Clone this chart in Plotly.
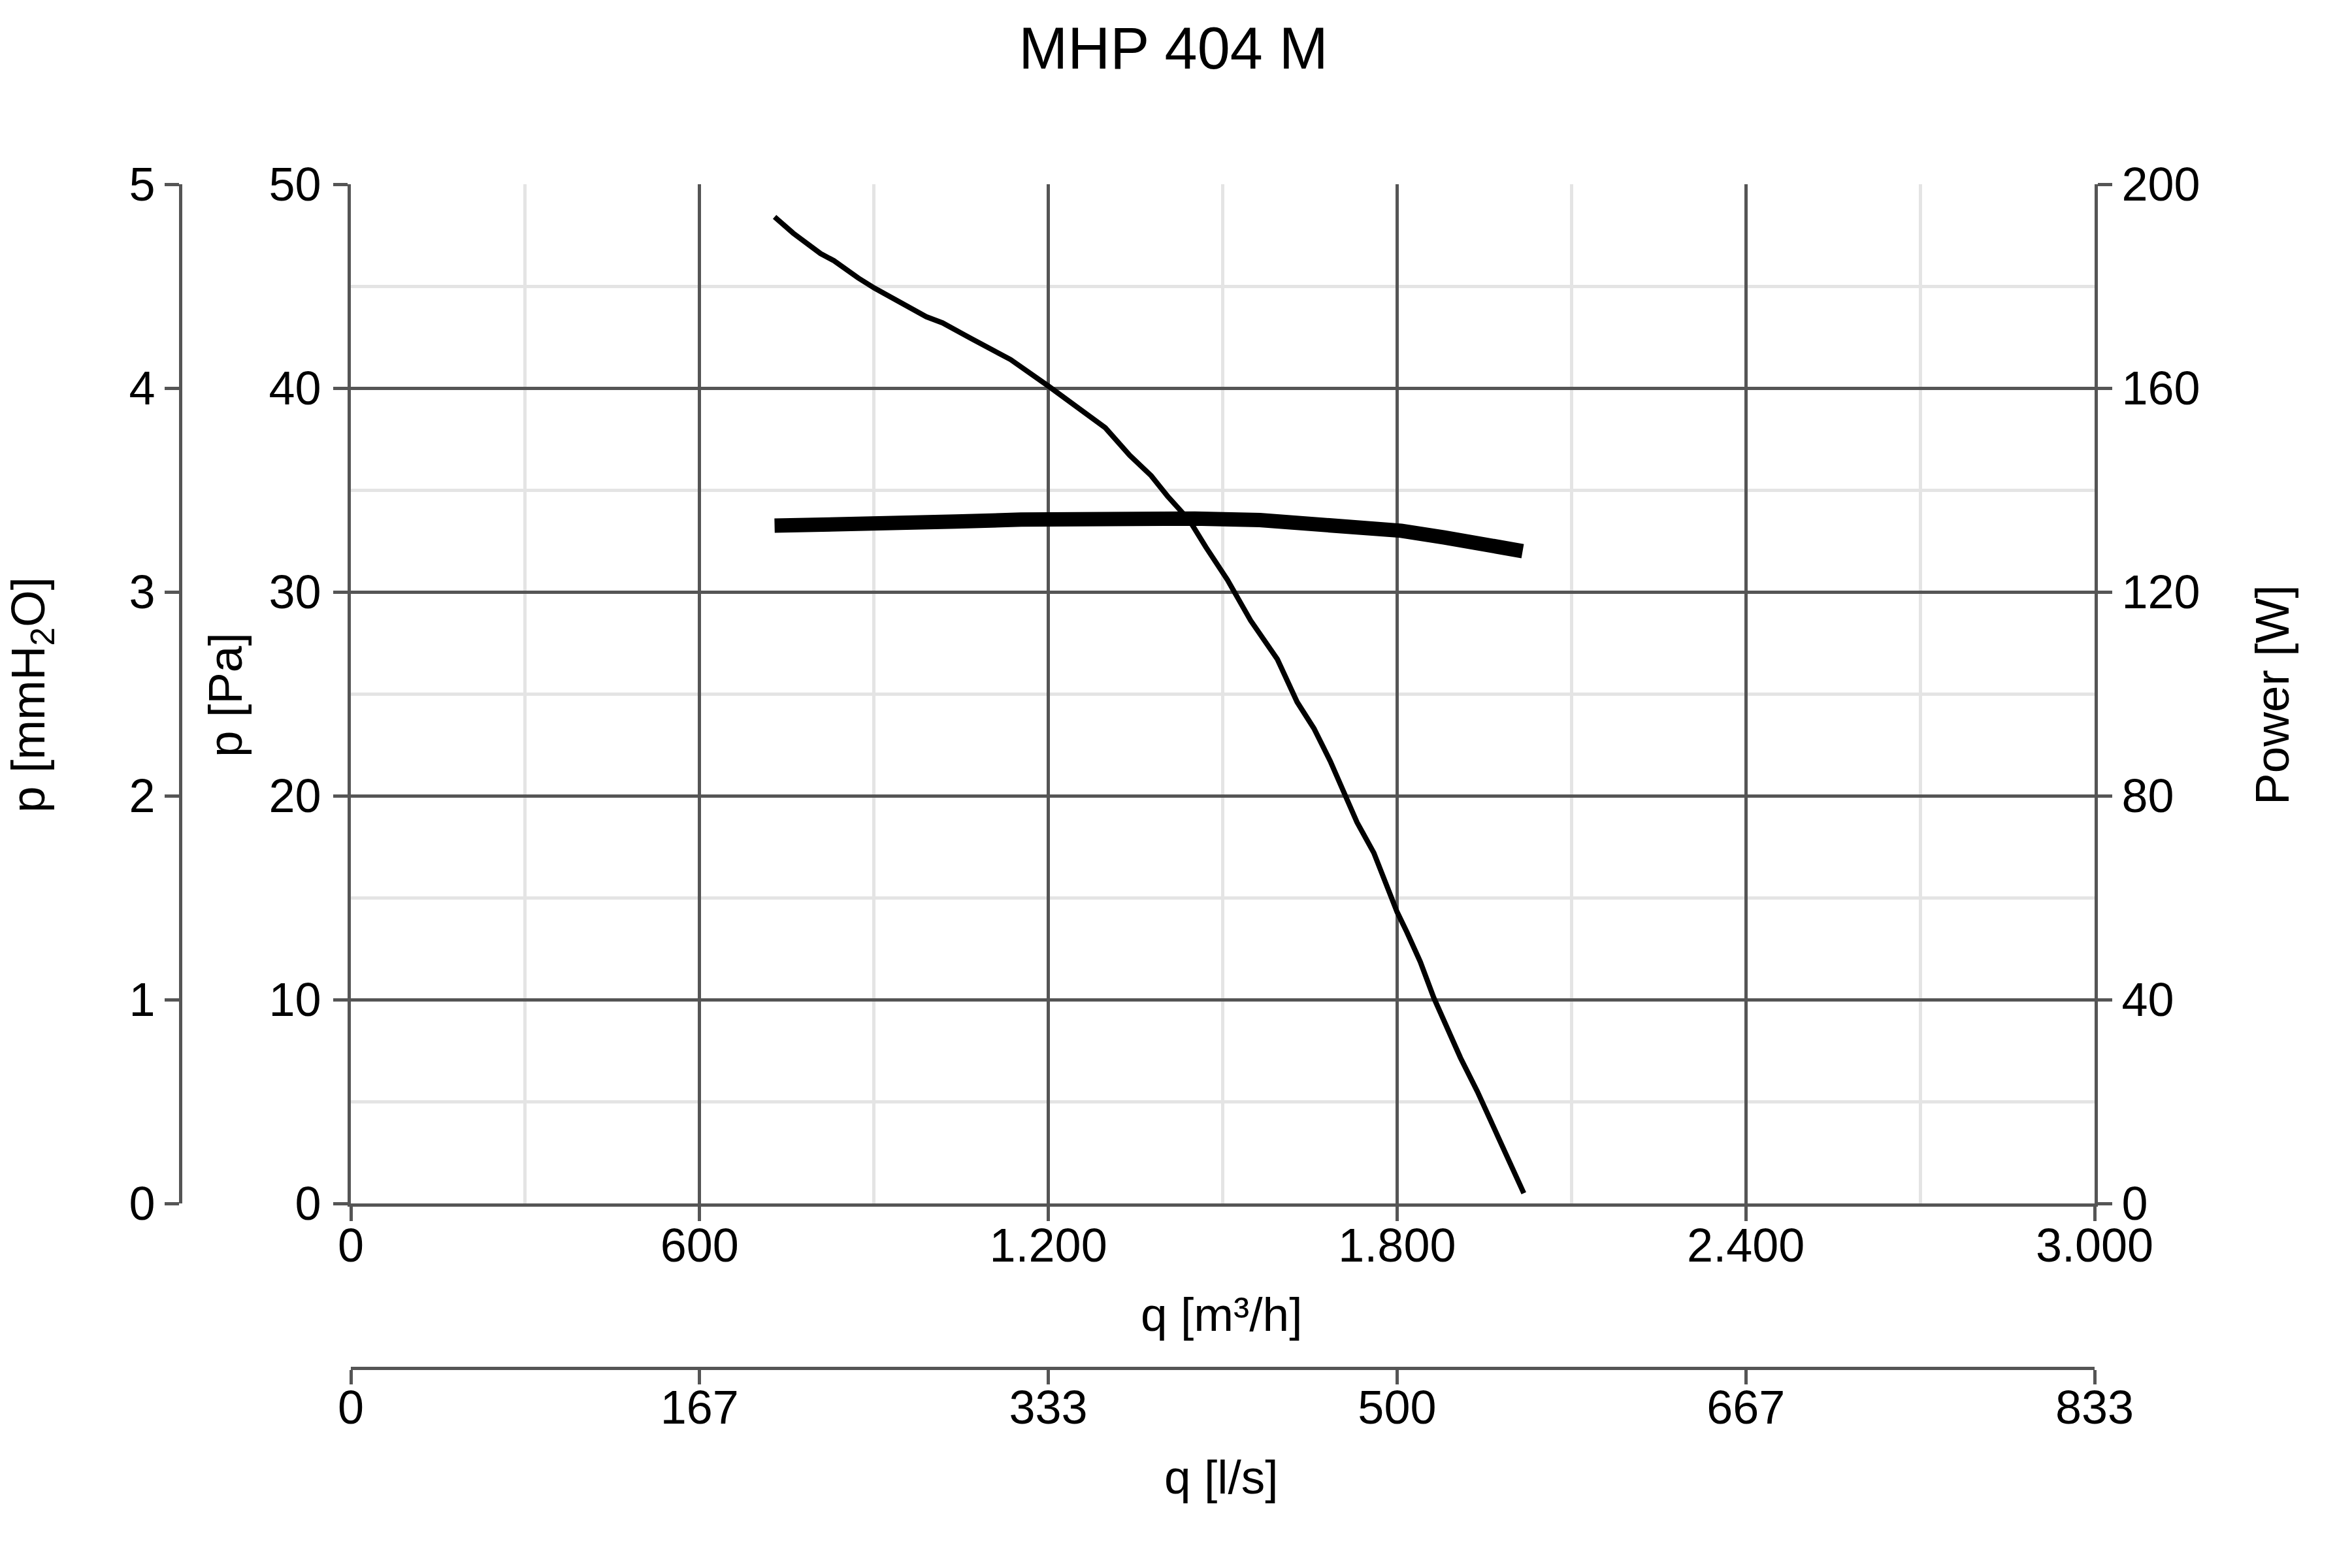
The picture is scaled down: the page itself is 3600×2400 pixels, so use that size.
import plotly.graph_objects as go

# ---- data ----
q_pressure = [729, 761, 808, 831, 873, 901, 990, 1018, 1069, 1135, 1200, 1298, 1340, 1377,
              1405, 1443, 1471, 1508, 1548, 1571, 1594, 1628, 1657, 1685, 1708, 1731, 1760,
              1783, 1800, 1817, 1840, 1863, 1886, 1909, 1938, 1966, 1995, 2018]
p_pa = [48.4, 47.6, 46.6, 46.25, 45.4, 44.9, 43.5, 43.2, 42.4, 41.4, 40.1, 38.05, 36.7, 35.7,
        34.7, 33.5, 32.2, 30.6, 28.6, 27.7, 26.7, 24.6, 23.3, 21.7, 20.2, 18.7, 17.2,
        15.5, 14.3, 13.3, 11.85, 10.1, 8.6, 7.15, 5.5, 3.7, 1.94, 0.5]

q_power = [729, 901, 929, 1041, 1153, 1303, 1452, 1564, 1620, 1732, 1807, 1881, 1946, 2016]
power_w = [133.0, 133.1, 133.6, 133.8, 134.2, 134.6, 134.4, 134.1, 133.7, 132.8, 132.0,
           130.7, 129.1, 128.0]

q_ticks = [0, 600, 1200, 1800, 2400, 3000]
q_ticklabels = ["0", "600", "1.200", "1.800", "2.400", "3.000"]
ls_ticks = [0, 166.667, 333.333, 500, 666.667, 833.333]
ls_ticklabels = ["0", "167", "333", "500", "667", "833"]

title_text = "MHP 404 M"

# ---- style ----
FONT = "Liberation Sans, Arial, sans-serif"
DARK = "#555555"
LIGHT = "#e4e4e4"
TF = 72
AF = 73
W, H = 3600, 2400


def px(x):
    return x / W


def py(y):
    return (H - y) / H


fig = go.Figure()
fig.add_trace(go.Scatter(x=q_pressure, y=p_pa, mode="lines",
                         line=dict(color="black", width=8), xaxis="x", yaxis="y",
                         showlegend=False, hoverinfo="skip"))
fig.add_trace(go.Scatter(x=q_power, y=power_w, mode="lines",
                         line=dict(color="black", width=22), xaxis="x", yaxis="y2",
                         showlegend=False, hoverinfo="skip"))
# carrier for the secondary unit axes
fig.add_trace(go.Scatter(x=[None], y=[None], xaxis="x2", yaxis="y3", showlegend=False,
                         hoverinfo="skip"))

xdom = [px(529), px(3198)]
ydom = [py(1834), py(274)]

axis_common = dict(ticks="outside", ticklen=22, tickwidth=5, tickcolor=DARK,
                   showline=True, linecolor=DARK, linewidth=5, zeroline=False,
                   automargin=False,
                   tickfont=dict(size=TF, color="black", family=FONT))

fig.update_layout(
    width=W, height=H,
    margin=dict(l=0, r=0, t=0, b=0, autoexpand=False),
    paper_bgcolor="white", plot_bgcolor="white",
    font=dict(family=FONT, color="black", size=TF),
    showlegend=False,
    xaxis=dict(domain=xdom, range=[0, 3000], tickmode="array", tickvals=q_ticks,
               ticktext=q_ticklabels, showgrid=True, gridcolor=DARK, gridwidth=5,
               minor=dict(dtick=300, showgrid=True, gridcolor=LIGHT, gridwidth=5, ticks=""),
               anchor="y", ticklabelstandoff=-24, **axis_common),
    yaxis=dict(domain=ydom, range=[0, 50], dtick=10, showgrid=True, gridcolor=DARK,
               gridwidth=5, minor=dict(dtick=5, showgrid=True, gridcolor=LIGHT, gridwidth=5,
                                       ticks=""),
               anchor="x", ticklabelstandoff=4, **axis_common),
    yaxis2=dict(range=[0, 200], dtick=40, overlaying="y", side="right", anchor="x",
                showgrid=False, **axis_common),
    yaxis3=dict(range=[0, 5], dtick=1, overlaying="y", side="left", anchor="free",
                position=px(268), showgrid=False, **axis_common),
    xaxis2=dict(range=[0, 833.333], tickmode="array", tickvals=ls_ticks,
                ticktext=ls_ticklabels, overlaying="x", side="bottom", anchor="free",
                position=py(2086), showgrid=False, ticklabelstandoff=-26, **axis_common),
    title=dict(text=title_text, x=px(1788), xanchor="center", y=py(65),
               yanchor="middle", yref="container", xref="paper", automargin=False,
               font=dict(size=90, color="black", family=FONT)),
)

ann = dict(showarrow=False, xref="paper", yref="paper",
           font=dict(size=AF, color="black", family=FONT))
ymid = py(1056)
fig.add_annotation(text="q [m³/h]", x=px(1861), y=py(2003),
                   xanchor="center", yanchor="middle", **ann)
fig.add_annotation(text="q [l/s]", x=px(1861), y=py(2252),
                   xanchor="center", yanchor="middle", **ann)
fig.add_annotation(text="p [Pa]", x=px(337), y=ymid, textangle=-90,
                   xanchor="center", yanchor="middle", **ann)
fig.add_annotation(text="p [mmH<sub>2</sub>O]", x=px(40), y=ymid, textangle=-90,
                   xanchor="center", yanchor="middle", **ann)
fig.add_annotation(text="Power [W]", x=px(3470), y=ymid, textangle=-90,
                   xanchor="center", yanchor="middle", **ann)

fig.write_html("out.html")
